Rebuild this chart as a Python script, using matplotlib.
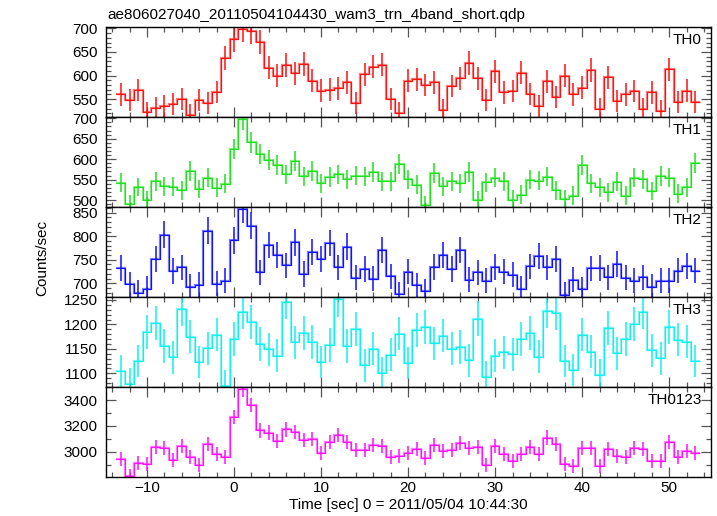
import numpy as np
import matplotlib
matplotlib.use("Agg")
import matplotlib.pyplot as plt
from matplotlib.ticker import MultipleLocator

plt.rcParams['font.family'] = ['Liberation Sans', 'DejaVu Sans']

title = "ae806027040_20110504104430_wam3_trn_4band_short.qdp"
xlabel = "Time [sec] 0 = 2011/05/04 10:44:30"
ylabel = "Counts/sec"

time = np.arange(-13, 54)  # bin centres (1 s bins)

th0 = [560, 548, 569, 522, 532, 535, 539, 550, 517, 548, 541, 565, 638, 677, 698, 694, 671,
       617, 600, 622, 605, 624, 589, 568, 570, 573, 586, 542, 603, 619, 623, 551, 521, 589,
       592, 580, 586, 527, 578, 594, 626, 594, 548, 609, 564, 567, 606, 561, 536, 588, 554,
       600, 560, 574, 612, 529, 596, 546, 560, 567, 529, 564, 525, 613, 544, 568, 544]
th1 = [542, 490, 532, 500, 546, 534, 533, 524, 571, 527, 555, 530, 540, 625, 697, 641, 612,
       598, 585, 563, 596, 558, 571, 541, 556, 563, 551, 560, 558, 568, 546, 546, 588, 551,
       538, 488, 566, 534, 546, 541, 568, 499, 543, 555, 546, 501, 513, 550, 547, 557, 524,
       502, 511, 585, 541, 531, 519, 545, 511, 555, 551, 522, 559, 555, 516, 531, 590]
th2 = [733, 698, 680, 689, 751, 803, 726, 734, 693, 697, 812, 699, 705, 791, 857, 822, 723,
       782, 760, 738, 787, 720, 766, 752, 785, 734, 778, 712, 730, 710, 770, 715, 677, 725,
       696, 684, 735, 760, 730, 770, 708, 723, 706, 735, 725, 718, 689, 736, 759, 734, 752,
       676, 708, 688, 732, 733, 713, 741, 712, 705, 713, 693, 705, 705, 727, 737, 727]
th3 = [1104, 1079, 1125, 1184, 1203, 1156, 1133, 1231, 1175, 1123, 1151, 1179, 1074, 1170,
       1225, 1204, 1160, 1149, 1136, 1246, 1163, 1183, 1164, 1123, 1158, 1251, 1156, 1191,
       1116, 1150, 1101, 1138, 1181, 1121, 1188, 1194, 1161, 1177, 1150, 1154, 1127, 1212,
       1092, 1136, 1143, 1139, 1170, 1182, 1134, 1228, 1224, 1125, 1107, 1179, 1144, 1096,
       1193, 1141, 1170, 1200, 1225, 1147, 1131, 1195, 1169, 1165, 1125]
th0123 = [2941, 2813, 2912, 2902, 3034, 3029, 2933, 3042, 2959, 2894, 3062, 2980, 2959, 3270,
          3486, 3363, 3166, 3148, 3083, 3174, 3153, 3091, 3096, 2990, 3073, 3130, 3075, 3011,
          3011, 3052, 3042, 2956, 2965, 2990, 3019, 2951, 3052, 3003, 3011, 3068, 3031, 3037,
          2894, 3042, 2980, 2928, 2985, 3034, 2982, 3109, 3058, 2907, 2886, 3026, 3029, 2886,
          3021, 2969, 2956, 3029, 3019, 2928, 2928, 3073, 2956, 3003, 2990]

names = ["TH0", "TH1", "TH2", "TH3", "TH0123"]
series = [th0, th1, th2, th3, th0123]
colors = ["#ff1010", "#20e020", "#1010ff", "#10f0f0", "#ff10ff"]
ylims = [(512, 703), (483, 703), (671, 862), (1072, 1256), (2803, 3503)]
major = [50, 50, 50, 50, 200]
minor = [10, 10, 10, 10, 100]

fig = plt.figure(figsize=(7.17, 5.16), dpi=100)
gs = fig.add_gridspec(5, 1, left=106/717, right=711/717, top=1-27/516, bottom=1-477/516,
                      hspace=0)
axes = [fig.add_subplot(gs[i]) for i in range(5)]

t = np.asarray(time, dtype=float)
edges = np.concatenate([t - 0.5, [t[-1] + 0.5]])

for i, ax in enumerate(axes):
    v = np.asarray(series[i], dtype=float)
    err = np.sqrt(v)  # Poisson error for 1-s bins
    c = colors[i]
    ax.stairs(v, edges, baseline=None, color=c, lw=1.6, alpha=0.55)
    ax.stairs(v, edges, baseline=None, color=c, lw=0.8, alpha=1.0)
    ax.errorbar(t, v, yerr=err, fmt='none', ecolor=c, elinewidth=1.1, capsize=0)
    ax.set_xlim(-14.7, 54.8)
    ax.set_ylim(*ylims[i])
    ax.xaxis.set_major_locator(MultipleLocator(10))
    ax.xaxis.set_minor_locator(MultipleLocator(2))
    ax.yaxis.set_major_locator(MultipleLocator(major[i]))
    ax.yaxis.set_minor_locator(MultipleLocator(minor[i]))
    ax.tick_params(which='both', direction='in', top=True, right=True, color='#555555',
                   labelsize=11, width=0.9)
    ax.tick_params(which='major', length=7)
    ax.tick_params(axis='y', which='major', pad=6)
    ax.tick_params(axis='x', which='major', pad=3)
    ax.tick_params(which='minor', length=3.5)
    for s in ax.spines.values():
        s.set_linewidth(1.0)
        s.set_color('black')
    ax.text(0.985, 0.93, names[i], transform=ax.transAxes, ha='right', va='top',
            fontsize=11)
    if i < 4:
        ax.tick_params(labelbottom=False)

axes[-1].set_xlabel(xlabel, fontsize=11, labelpad=2)
fig.text(107/717, 1-15/516, title, ha='left', va='center', fontsize=11)
fig.text(42/717, 0.5, ylabel, rotation=90, ha='center', va='center', fontsize=11)

fig.savefig("out.png", dpi=100)
